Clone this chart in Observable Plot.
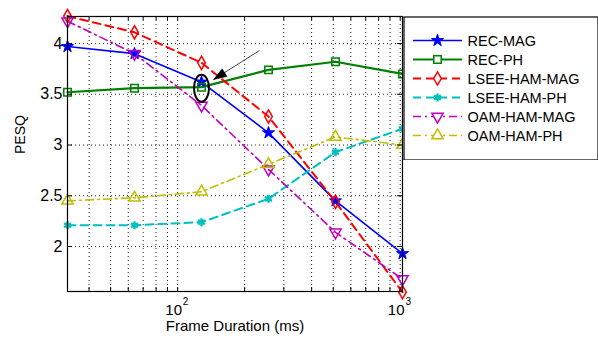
<!DOCTYPE html>
<html><head><meta charset="utf-8">
<script src="https://cdn.jsdelivr.net/npm/d3@7"></script>
<script src="https://cdn.jsdelivr.net/npm/@observablehq/plot@0.6"></script>
<style>
body{margin:0;background:#fff}
#wrap{position:relative;width:598px;height:338px;font-family:"Liberation Sans",Arial,sans-serif}
#wrap svg{position:absolute}
</style>
</head><body><div id="wrap"></div>
<script>
// Data
const durations = [32, 64, 128, 256, 512, 1024];
const seriesNames = ["REC-MAG", "REC-PH", "LSEE-HAM-MAG", "LSEE-HAM-PH", "OAM-HAM-MAG", "OAM-HAM-PH"];
const recMag  = [3.97, 3.90, 3.62, 3.12, 2.45, 1.93];
const recPh   = [3.52, 3.56, 3.57, 3.74, 3.82, 3.70];
const lseeMag = [4.27, 4.11, 3.81, 3.28, 2.44, 1.55];
const lseePh  = [2.21, 2.21, 2.24, 2.47, 2.93, 3.16];
const oamMag  = [4.22, 3.90, 3.39, 2.76, 2.14, 1.68];
const oamPh   = [2.45, 2.48, 2.54, 2.81, 3.08, 3.00];
const yTicks = [2, 2.5, 3, 3.5, 4];
const xMajorTicks = [100, 1000];
const xGridTicks = [40, 50, 60, 70, 80, 90, 100, 200, 300, 400, 500, 600, 700, 800, 900, 1000];
const noteEllipse = [{x: 128, y: 3.56}];
const noteArrow = [{x1: 233, y1: 3.93, x2: 145, y2: 3.645}];

const font = '"Liberation Sans", Arial, sans-serif';
const styles = [
  {color: "#0000ff", dash: null, width: 1.6, symbol: "star", fill: "#0000ff", sw: 1, r: 3.8, rotate: 0},
  {color: "#008000", dash: null, width: 2.2, symbol: "square", fill: "none", sw: 1.5, r: 4.2, rotate: 0},
  {color: "#ff0000", dash: "8,5", width: 2, symbol: "diamond", fill: "none", sw: 1.5, r: 4, rotate: 0},
  {color: "#00bfbf", dash: "8,5", width: 2, symbol: "asterisk", fill: "none", sw: 2.4, r: 3.8, rotate: 0},
  {color: "#bf00bf", dash: "8,4,2,4", width: 1.6, symbol: "triangle", fill: "none", sw: 1.5, r: 4.2, rotate: 180},
  {color: "#bfbf00", dash: "8,4,2,4", width: 1.6, symbol: "triangle", fill: "none", sw: 1.5, r: 4.2, rotate: 0}
];
const values = [recMag, recPh, lseeMag, lseePh, oamMag, oamPh];
const series = seriesNames.map((name, i) => ({name, ...styles[i],
  rows: durations.map((d, j) => ({x: d, y: values[i][j]}))}));

const ellipseSymbol = {draw(ctx) {
  const rx = 7.5, ry = 13.5, k = 0.5523;
  ctx.moveTo(rx, 0);
  ctx.bezierCurveTo(rx, ry * k, rx * k, ry, 0, ry);
  ctx.bezierCurveTo(-rx * k, ry, -rx, ry * k, -rx, 0);
  ctx.bezierCurveTo(-rx, -ry * k, -rx * k, -ry, 0, -ry);
  ctx.bezierCurveTo(rx * k, -ry, rx, -ry * k, rx, 0);
  ctx.closePath();
}};
const headSymbol = {draw(ctx) {
  ctx.moveTo(0, 0); ctx.lineTo(-4.5, 13); ctx.lineTo(4.5, 13); ctx.closePath();
}};

const lineMarks = series.map(s => Plot.line(s.rows, {x: "x", y: "y", stroke: s.color,
  strokeWidth: s.width, strokeDasharray: s.dash, strokeLinejoin: "round"}));
const dotMarks = series.map(s => Plot.dot(s.rows, {x: "x", y: "y", symbol: s.symbol, r: s.r,
  stroke: s.color, fill: s.fill, strokeWidth: s.sw, rotate: s.rotate}));

const plotH = 338 - 16 - 47, plotW = 598 - 67 - 196;
const main = Plot.plot({
  width: 598, height: 338, marginLeft: 67, marginRight: 196, marginTop: 16, marginBottom: 47,
  x: {type: "log", domain: [32, 1024]},
  y: {domain: [1.557, 4.266]},
  style: {fontFamily: font, fontSize: "16px", color: "#000", background: "transparent", overflow: "visible"},
  marks: [
    Plot.ruleX(xGridTicks, {stroke: "#000", strokeDasharray: "1,3", strokeOpacity: 0.85}),
    Plot.ruleY(yTicks, {stroke: "#000", strokeDasharray: "1,3", strokeOpacity: 0.85}),
    ...lineMarks,
    ...dotMarks,
    Plot.dot(noteEllipse, {x: "x", y: "y", symbol: ellipseSymbol, stroke: "#000", strokeWidth: 2, fill: "none"}),
    Plot.link(noteArrow, {x1: "x1", y1: "y1", x2: "x2", y2: "y2", stroke: "#444", strokeWidth: 1}),
    Plot.dot(noteArrow, {x: "x2", y: "y2", symbol: headSymbol, fill: "#000", stroke: "#000", strokeWidth: 0.5, rotate: -122}),
    Plot.frame({stroke: "#000", strokeWidth: 1.2}),
    Plot.tickX(xGridTicks, {x: d => d, insetTop: plotH - 4, stroke: "#000"}),
    Plot.tickX(xGridTicks, {x: d => d, insetBottom: plotH - 4, stroke: "#000"}),
    Plot.tickY(yTicks, {y: d => d, insetRight: plotW - 5, stroke: "#000"}),
    Plot.tickY(yTicks, {y: d => d, insetLeft: plotW - 5, stroke: "#000"}),
    Plot.axisY(yTicks, {tickSize: 0, tickPadding: 5, tickFormat: d => String(d), fontSize: 16, label: null}),
    Plot.axisX(xMajorTicks, {tickSize: 0, tickPadding: 13, tickFormat: () => "10", dx: -4, fontSize: 15, label: null}),
    Plot.text(xMajorTicks, {x: d => d, frameAnchor: "bottom", dy: 13, dx: 8, text: d => String(Math.round(Math.log10(d))), fontSize: 10}),
    Plot.text(["Frame Duration (ms)"], {frameAnchor: "bottom", dy: 39, fontSize: 15}),
    Plot.text(["PESQ"], {frameAnchor: "left", dx: -47, rotate: -90, fontSize: 14})
  ]
});

const legend = Plot.plot({
  width: 195, height: 144, margin: 0,
  x: {domain: [0, 195], range: [0, 195], axis: null},
  y: {type: "point", domain: seriesNames, range: [13, 129], axis: null},
  style: {fontFamily: font, fontSize: "14px", color: "#000", background: "white"},
  marks: [
    Plot.frame({stroke: "#000", strokeWidth: 1.2, inset: 0.5}),
    ...series.map(s => Plot.ruleY([s], {y: "name", x1: 10, x2: 59, stroke: s.color, strokeWidth: s.width, strokeDasharray: s.dash})),
    ...series.map(s => Plot.dot([s], {x: () => 34, y: "name", symbol: s.symbol, r: s.r, stroke: s.color, fill: s.fill === "none" ? "white" : s.fill, strokeWidth: s.sw, rotate: s.rotate})),
    Plot.text(series, {x: () => 64, y: "name", text: "name", textAnchor: "start", fontSize: 14.5, dy: 1})
  ]
});

const wrap = document.getElementById("wrap");
main.style.left = "0px"; main.style.top = "0px";
legend.style.left = "403px"; legend.style.top = "16px";
wrap.appendChild(main);
wrap.appendChild(legend);
</script></body></html>
